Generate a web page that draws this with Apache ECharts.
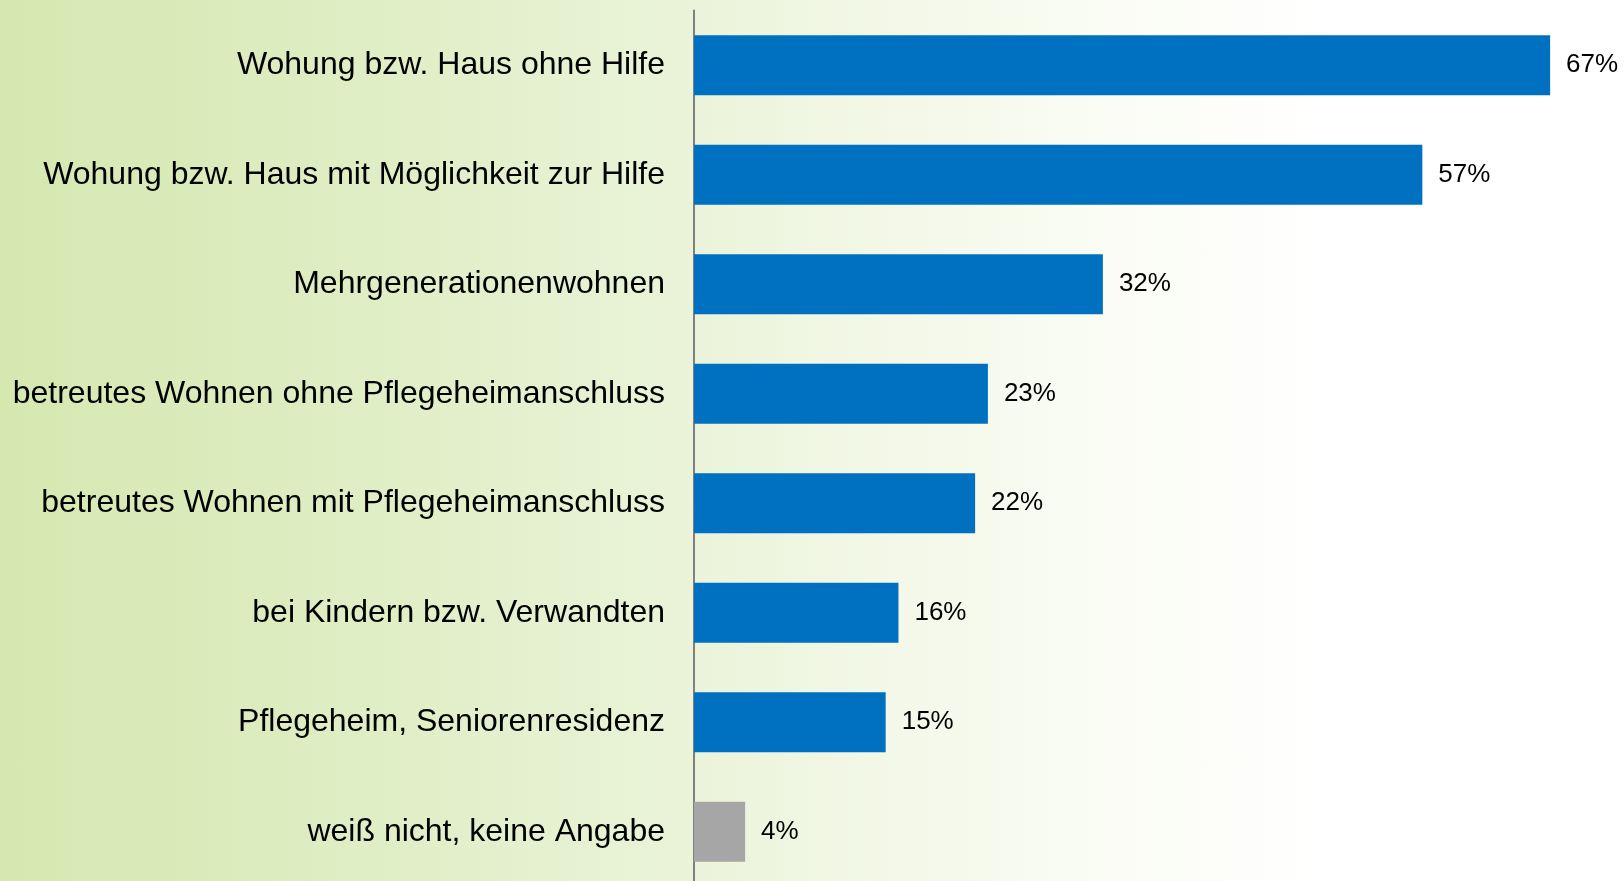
<!DOCTYPE html>
<html>
<head>
<meta charset="utf-8">
<script src="https://cdn.jsdelivr.net/npm/echarts@6/dist/echarts.min.js"></script>
<style>
  html, body { margin: 0; padding: 0; }
  #chart {
    width: 1624px; height: 881px;
    background: linear-gradient(to right, #d5e8b0 0%, #deedc2 20%, #e8f2d4 38%, #f3f8e8 55%, #fbfdf6 70%, #ffffff 82%, #ffffff 100%);
  }
</style>
</head>
<body>
<div id="chart"></div>
<script>
// Antworten (von oben nach unten)
const categories = [
  'Wohung bzw. Haus ohne Hilfe',
  'Wohung bzw. Haus mit Möglichkeit zur Hilfe',
  'Mehrgenerationenwohnen',
  'betreutes Wohnen ohne Pflegeheimanschluss',
  'betreutes Wohnen mit Pflegeheimanschluss',
  'bei Kindern bzw. Verwandten',
  'Pflegeheim, Seniorenresidenz',
  'weiß nicht, keine Angabe'
];
// Anteile in Prozent
const values = [67, 57, 32, 23, 22, 16, 15, 4];
// letzte Antwort grau
const barColors = ['#0070c0', '#0070c0', '#0070c0', '#0070c0', '#0070c0', '#0070c0', '#0070c0', '#a6a6a6'];

const chart = echarts.init(document.getElementById('chart'));

chart.setOption({
  backgroundColor: 'transparent',
  animation: false,
  grid: {
    left: 694,
    right: 10,
    top: 10.5,
    height: 876,
    outerBoundsMode: 'none'
  },
  xAxis: {
    type: 'value',
    min: 0,
    max: 72,
    show: false
  },
  yAxis: {
    type: 'category',
    data: categories,
    inverse: true,
    axisTick: { show: false },
    axisLine: { lineStyle: { color: '#808080', width: 2 } },
    axisLabel: {
      color: '#000',
      fontSize: 32,
      fontFamily: 'Liberation Sans, Arial, sans-serif',
      margin: 29
    }
  },
  series: [{
    type: 'bar',
    barWidth: 60,
    data: values.map((v, i) => ({
      value: v,
      itemStyle: { color: barColors[i] }
    })),
    label: {
      show: true,
      position: 'right',
      distance: 16,
      formatter: '{c}%',
      color: '#000',
      fontSize: 26,
      fontFamily: 'Liberation Sans, Arial, sans-serif'
    }
  }]
});
</script>
</body>
</html>
